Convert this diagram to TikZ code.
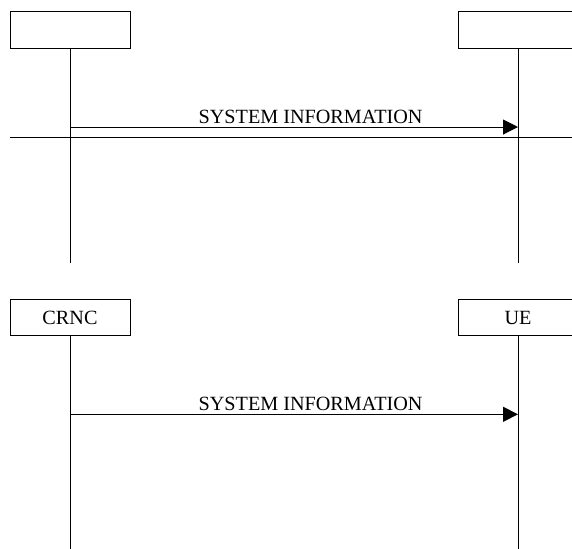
\documentclass[tikz,border=0pt]{standalone}
\usepackage{fontspec}
\setmainfont{Liberation Serif}
\usetikzlibrary{arrows.meta}

\tikzset{
    entity/.style={draw, line width=0.5pt, minimum width=60pt, minimum height=18.3pt,
        inner sep=0pt, outer sep=0pt, font=\fontsize{10.1}{12}\selectfont},
    lifeline/.style={line width=0.5pt},
    message/.style={line width=0.5pt, -{Triangle[length=7.5pt,width=7.5pt]}},
    msglabel/.style={anchor=base, pos=0.537, yshift=2pt, inner sep=0pt,
        font=\fontsize{10.1}{12}\selectfont}
}

\begin{document}
\begin{tikzpicture}[x=0.5pt, y=-0.5pt]
    \useasboundingbox (0,0) rectangle (572,548);
    \clip (0,0) rectangle (572,548);

    % upper chart, no entity names
    \node[entity] (crncA) at (70,30) {};
    \node[entity] (ueA) at (518,30) {};
    \coordinate (crncAend) at (70,263);
    \coordinate (ueAend) at (518,263);
    \draw[lifeline] (crncA.south) -- (crncAend);
    \draw[lifeline] (ueA.south) -- (ueAend);

    \coordinate (sendA) at (70,127);
    \coordinate (recvA) at (518,127);
    \draw[message] (sendA) -- (recvA) node[msglabel] {SYSTEM INFORMATION};

    % separating line
    \coordinate (sepL) at (10,137.7);
    \coordinate (sepR) at (600,137.7);
    \draw[lifeline] (sepL) -- (sepR);

    % lower chart
    \node[entity] (crncB) at (70,317.5) {CRNC};
    \node[entity] (ueB) at (518,317.5) {UE};
    \coordinate (crncBend) at (70,560);
    \coordinate (ueBend) at (518,560);
    \draw[lifeline] (crncB.south) -- (crncBend);
    \draw[lifeline] (ueB.south) -- (ueBend);

    \coordinate (sendB) at (70,414.3);
    \coordinate (recvB) at (518,414.3);
    \draw[message] (sendB) -- (recvB) node[msglabel] {SYSTEM INFORMATION};
\end{tikzpicture}
\end{document}
